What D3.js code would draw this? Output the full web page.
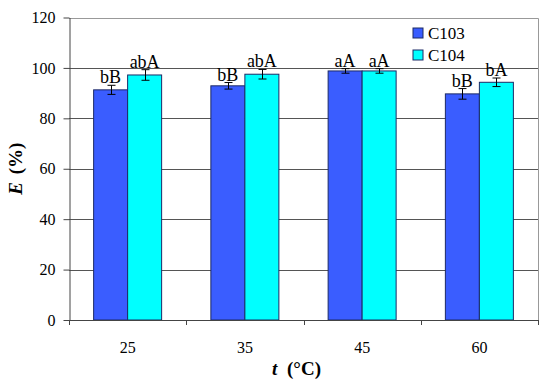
<!DOCTYPE html>
<html>
<head>
<meta charset="utf-8">
<script src="https://cdn.jsdelivr.net/npm/d3@7"></script>
<style>
  body { margin: 0; background: #fff; }
  svg { display: block; }
  svg text { font-family: "Liberation Serif", "Times New Roman", serif !important; fill: #000; }
</style>
</head>
<body>
<svg width="550" height="388"></svg>
<script>
// data
const temps = ["25", "35", "45", "60"];
const series = ["C103", "C104"];
const c103 = [91.3, 92.9, 98.8, 89.7];
const c104 = [97.2, 97.5, 98.8, 94.3];
const c103Err = [1.8, 1.3, 0.9, 2.1];
const c104Err = [2.1, 1.9, 0.9, 1.7];
const c103Labels = ["bB", "bB", "aA", "bB"];
const c104Labels = ["abA", "abA", "aA", "bA"];
const yTicks = [0, 20, 40, 60, 80, 100, 120];

const colors = { C103: "#3a5dff", C104: "#00ffff" };

const svg = d3.select("svg");
const plotL = 69, plotR = 538, plotT = 17.5, plotB = 320;

const x = d3.scaleBand().domain(temps).range([plotL, plotR])
  .paddingInner(0.42).paddingOuter(0.21);
const xs = d3.scaleBand().domain(series).range([0, x.bandwidth()]);
const y = d3.scaleLinear().domain([0, 120]).range([plotB, plotT]);

// grid lines
svg.append("g")
  .selectAll("line")
  .data(yTicks.filter(d => d > 0 && d < 120))
  .join("line")
  .attr("x1", plotL).attr("x2", plotR)
  .attr("y1", d => Math.round(y(d)) + 0.5).attr("y2", d => Math.round(y(d)) + 0.5)
  .attr("stroke", "#555");

// frame (top and right)
svg.append("path")
  .attr("d", `M${plotL},${Math.round(y(120)) + 0.5}H${plotR + 0.5}V${plotB}`)
  .attr("fill", "none").attr("stroke", "#999");

const rows = temps.map((t, i) => ([
  { t, s: "C103", v: c103[i], e: c103Err[i], lab: c103Labels[i] },
  { t, s: "C104", v: c104[i], e: c104Err[i], lab: c104Labels[i] }
])).flat();

svg.append("g")
  .selectAll("rect")
  .data(rows)
  .join("rect")
  .attr("x", d => x(d.t) + xs(d.s))
  .attr("y", d => y(d.v))
  .attr("width", xs.bandwidth())
  .attr("height", d => plotB - y(d.v))
  .attr("fill", d => colors[d.s])
  .attr("stroke", "#1d2a66")
  .attr("stroke-width", 1);

// error bars
const eb = svg.append("g").attr("stroke", "#000").attr("stroke-width", 1);
rows.forEach(d => {
  const cx = Math.round(x(d.t) + xs(d.s) + xs.bandwidth() / 2) + 0.5;
  const y1 = y(d.v + d.e), y2 = y(d.v - d.e);
  eb.append("line").attr("x1", cx).attr("x2", cx).attr("y1", y1).attr("y2", y2);
  eb.append("line").attr("x1", cx - 4).attr("x2", cx + 4).attr("y1", y1).attr("y2", y1);
  eb.append("line").attr("x1", cx - 4).attr("x2", cx + 4).attr("y1", y2).attr("y2", y2);
});

// letters above the bars
svg.append("g")
  .selectAll("text")
  .data(rows)
  .join("text")
  .attr("x", d => x(d.t) + xs(d.s) + xs.bandwidth() / 2)
  .attr("y", d => y(d.v + d.e) - 2)
  .attr("text-anchor", "middle")
  .attr("font-size", 18)
  .text(d => d.lab);

// y axis
const yAxis = svg.append("g")
  .attr("transform", `translate(${plotL + 0.5},0)`)
  .call(d3.axisLeft(y).tickValues(yTicks).tickSize(6).tickPadding(8).tickSizeOuter(0));
yAxis.attr("font-family", null).attr("font-size", null);
yAxis.select(".domain").attr("stroke", "#444");
yAxis.selectAll(".tick line").attr("stroke", "#444");
yAxis.selectAll(".tick text").attr("font-size", 16);

// x axis with ticks at category boundaries
svg.append("line")
  .attr("x1", plotL).attr("x2", plotR + 0.5)
  .attr("y1", plotB + 0.5).attr("y2", plotB + 0.5)
  .attr("stroke", "#444");
const step = x.step();
svg.append("g")
  .selectAll("line")
  .data(d3.range(temps.length + 1))
  .join("line")
  .attr("x1", i => Math.round(plotL + i * step) + 0.5)
  .attr("x2", i => Math.round(plotL + i * step) + 0.5)
  .attr("y1", plotB).attr("y2", plotB + 5)
  .attr("stroke", "#444");
svg.append("g")
  .selectAll("text")
  .data(temps)
  .join("text")
  .attr("x", d => x(d) + x.bandwidth() / 2)
  .attr("y", 353)
  .attr("text-anchor", "middle")
  .attr("font-size", 16)
  .text(d => d);

// axis titles
const xt = svg.append("text")
  .attr("x", 272).attr("y", 375)
  .attr("font-size", 19).attr("font-weight", "bold");
xt.append("tspan").attr("font-style", "italic").text("t");
xt.append("tspan").attr("dx", 5).text(" (°C)");

const yt = svg.append("text")
  .attr("transform", `translate(22,${(plotT + plotB) / 2}) rotate(-90)`)
  .attr("text-anchor", "middle")
  .attr("font-size", 19).attr("font-weight", "bold");
yt.append("tspan").attr("font-style", "italic").text("E");
yt.append("tspan").attr("dx", 3).text(" (%)");

// legend
const lg = svg.append("g").attr("transform", "translate(413,28)");
series.forEach((s, i) => {
  const g = lg.append("g").attr("transform", `translate(0,${i * 22})`);
  g.append("rect").attr("width", 10).attr("height", 10)
    .attr("fill", colors[s]).attr("stroke", "#1d2a66");
  g.append("text").attr("x", 15).attr("y", 11).attr("font-size", 17).text(s);
});
</script>
</body>
</html>
